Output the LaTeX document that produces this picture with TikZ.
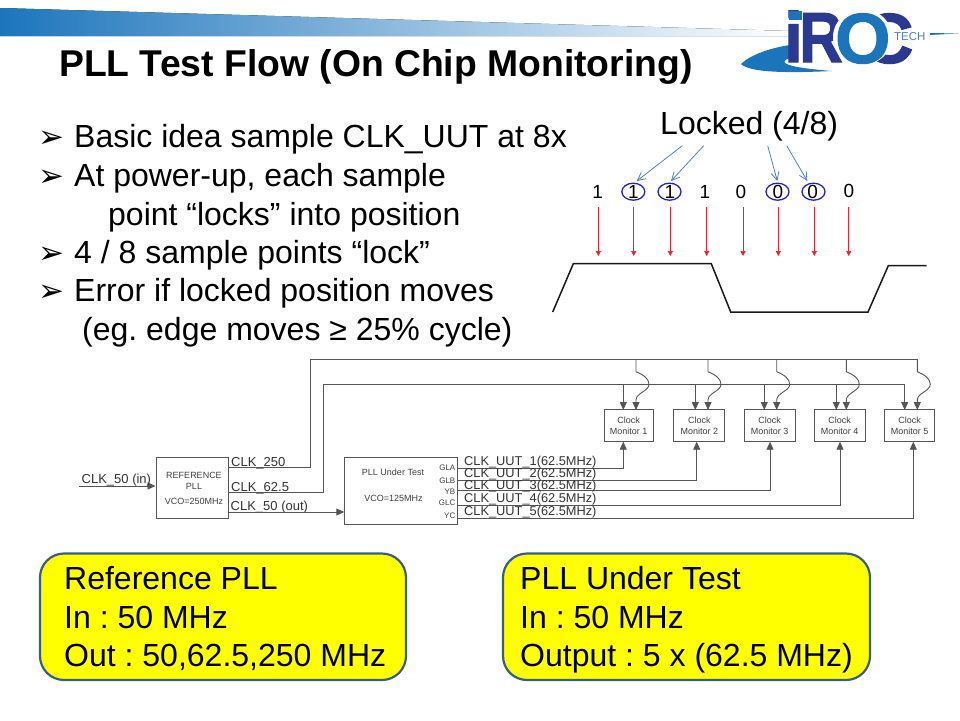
\documentclass[tikz,border=0pt]{standalone}
\usepackage{fontspec}
\setmainfont{Liberation Sans}
\newfontfamily\djv{DejaVu Sans}
\newfontfamily\logofont[FakeBold=1.5]{Liberation Sans Bold}
\usetikzlibrary{arrows.meta,shapes.geometric}
\frenchspacing
\definecolor{bandblue}{HTML}{1C75BC}
\definecolor{logonavy}{HTML}{2B3990}
\definecolor{logoblue}{HTML}{1B75BB}
\definecolor{callout}{HTML}{4F81BD}
\definecolor{ringblue}{HTML}{2222CC}
\definecolor{wire}{HTML}{555555}
\definecolor{boxline}{HTML}{385D8A}
\definecolor{calloutfill}{rgb}{1,1,0}
\definecolor{samplered}{rgb}{1,0.1,0.15}
\tikzset{
  pt/.style={font=\fontsize{#1}{#1}\selectfont,inner sep=0pt,text=black},
  bodytext/.style={pt=32,anchor=base west},
  bulletmark/.style={font=\djv\fontsize{31}{31}\selectfont,inner sep=0pt,anchor=base west},
  bit/.style={pt=19},
  sample/.style={draw=samplered,line width=0.6pt,-{Triangle[length=5pt,width=5pt]}},
  lockline/.style={draw=callout,line width=0.8pt,-{Straight Barb[length=8pt,width=8pt]}},
  ring/.style={draw=ringblue,line width=1.3pt},
  wave/.style={draw=black!90,line width=1.5pt},
  blk/.style={draw=wire,line width=1pt,fill=white,inner sep=0pt,text=black!75,align=center,font=\fontsize{9}{11}\selectfont},
  wireline/.style={draw=wire,line width=0.9pt},
  wirearrow/.style={wireline,-{Triangle[length=8pt,width=7pt]}},
  siglabel/.style={pt=13,anchor=base west,text=black!80},
  uutlabel/.style={pt=12.8,anchor=base west,text=black!80},
  portlabel/.style={pt=8,anchor=east,text=black!75},
  yellowbox/.style={draw=boxline,line width=2.2pt,fill=calloutfill,rounded corners=24pt},
  boxtext/.style={pt=32,anchor=base west},
  logoletter/.style={inner sep=0pt,anchor=base west,font=\logofont\fontsize{71}{71}\selectfont},
}
\begin{document}
\begin{tikzpicture}[x=1pt,y=-1pt]
\useasboundingbox (0,0) rectangle (960,720);
% top band
\fill[left color=bandblue,right color=white,draw=none] (0,8) -- (790,31) -- (790,36) -- (0,36) -- cycle;
% logo
\fill[logoblue] (741,64) .. controls (750,55) and (770,48) .. (790,45) -- (790,58) .. controls (778,62) and (782,67) .. (832,71) .. controls (790,73) and (750,73) .. (741,64) -- cycle;
\node[logoletter,text=logonavy,xscale=0.95] (logoi) at (784,62) {i};
\fill[logoblue] (789,11) rectangle (802,20);
\node[logoletter,text=logonavy,xscale=0.85] (logor) at (799,62) {R};
\node[logoletter,text=logonavy] (logoc) at (862,63) {C};
\fill[white] (862.5,37) ellipse[x radius=29.5,y radius=28];
\node[logoletter,text=logoblue] (logoo) at (835,63) {O};
\node[pt=11.5,anchor=west,text=callout] (tech) at (894,37) {TECH};
\fill[logoblue] (930,33) -- (958,33.5) -- (930,35) -- cycle;
% title
\node[anchor=base west,inner sep=0pt,font=\bfseries\fontsize{37.3}{37.3}\selectfont] (title) at (59,76.5) {PLL Test Flow (On Chip Monitoring)};
% bullets
\node[bulletmark] (b1) at (38,147) {➢};
\node[bodytext] (t1) at (74,147) {Basic idea sample CLK\_UUT at 8x};
\node[bulletmark] (b2) at (38,186) {➢};
\node[bodytext] (t2) at (74,186) {At power-up, each sample};
\node[bodytext] (t3) at (108,225) {point “locks” into position};
\node[bulletmark] (b4) at (38,263) {➢};
\node[bodytext] (t4) at (74,263) {4 / 8 sample points “lock”};
\node[bulletmark] (b5) at (38,301) {➢};
\node[bodytext] (t5) at (74,301) {Error if locked position moves};
\node[bodytext] (t6) at (82,340) {(eg. edge moves ≥ 25\% cycle)};
% timing
\node[pt=32,anchor=base west] (locked) at (660,134) {Locked (4/8)};
\coordinate (la1) at (682.3,145.7); \coordinate (la2) at (703.7,145.7);
\coordinate (la3) at (767.7,145.7); \coordinate (la4) at (786.7,145.7);
\foreach \n/\x/\v in {1/597.7/1,2/633.3/1,3/670/1,4/705/1,5/741/0,6/778/0,7/812.7/0}
  \node[bit] (bit\n) at (\x,191.7) {\v};
\node[bit] (bit8) at (849,190.5) {0};
\foreach \n/\x in {2/633.3,3/669.5,6/777.5,7/813.5}
  \node[ring,ellipse,minimum width=23pt,minimum height=17pt,inner sep=0pt] (ring\n) at (\x,191.7) {};
\draw[lockline] (la1) -- (636.7,181);
\draw[lockline] (la2) -- (671,181);
\draw[lockline] (la3) -- (777.3,181);
\draw[lockline] (la4) -- (807.3,181);
\foreach \x in {598.3,633.7,670.3,706.7,743,778.3,814.3,848.7}
  \draw[sample] (\x,207.3) -- (\x,256);
\draw[wave] (552.7,312) -- (573.3,263.7) -- (711.3,263.7) -- (730.7,312) -- (868,312) -- (888.3,265.7) -- (926.7,265.7);
% block diagram
\node[blk,minimum width=72pt,minimum height=60.5pt] (ref) at (192,487.8) {};
\node[pt=9,text=black!75] at (194,475.5) {REFERENCE};
\node[pt=9,text=black!75] at (194,486.5) {PLL};
\node[pt=9,text=black!75] at (194,501) {VCO=250MHz};
\node[blk,minimum width=113.4pt,minimum height=67pt] (put) at (401,490.8) {};
\node[pt=9,text=black!75] at (393,472.5) {PLL Under Test};
\node[pt=9,text=black!75] at (393.5,498) {VCO=125MHz};
\foreach \l/\y in {GLA/468,GLB/480.5,YB/491.5,GLC/503,YC/516}
  \node[portlabel] at (455.5,\y) {\l};
\foreach \n/\x/\w in {1/628.7/49.3,2/699.3/50.7,3/769.5/51,4/839.7/50.7,5/909.5/50.4}
  \node[blk,minimum width=\w pt,minimum height=31.7pt] (mon\n) at (\x,425.8) {Clock\\Monitor \n};
\coordinate (clkin) at (79.3,486);
\draw[wirearrow] (clkin) -- (ref.west |- clkin);
\node[siglabel] at (81.5,483) {CLK\_50 (in)};
\node[siglabel] at (231,466) {CLK\_250};
\node[siglabel] at (231,491) {CLK\_62.5};
\node[siglabel] at (230.5,510) {CLK\_50 (out)};
\coordinate (a250) at (228,467); \coordinate (a625) at (228,492.7); \coordinate (a50) at (228,512);
\draw[wireline] (a250) -- (310.7,467) -- (310.7,359) -- (917.3,359);
\draw[wireline] (a625) -- (323.7,492.7) -- (323.7,384.3) -- (904.7,384.3);
\draw[wirearrow] (a50) -- (344.3,512);
\foreach \x/\m in {623.3/1,695.3/2,764.3/3,836.3/4,904.7/5}
  \draw[wirearrow] (\x,384.3) -- (\x,410);
\foreach \x in {636,708,776.7,846.3,917.3}
  \draw[wirearrow] (\x,359) -- (\x,371.7) .. controls (\x+8,375) and (\x+13,379) .. (\x+13,384.3) .. controls (\x+13,391) and (\x,393) .. (\x,400) -- (\x,410);
\foreach \y/\x/\m in {468/623.3/1,480/696.7/2,490/770/3,505.3/840/4,518/913.3/5}{
  \coordinate (out\m) at (457.7,\y);
  \draw[wirearrow] (out\m) -- (\x,\y) -- (\x,441.7);
}
\foreach \n/\y in {1/465.5,2/477.5,3/489.5,4/502,5/515.5}
  \node[uutlabel] at (464,\y) {CLK\_UUT\_\n(62.5MHz)};
% yellow boxes
\path[yellowbox] (40,553.5) rectangle (406,680);
\path[yellowbox] (503,553.5) rectangle (870,680);
\node[boxtext] at (64,589) {Reference PLL};
\node[boxtext] at (64,628) {In : 50 MHz};
\node[boxtext] at (64,666) {Out : 50,62.5,250 MHz};
\node[boxtext] at (520,589) {PLL Under Test};
\node[boxtext] at (520,628) {In : 50 MHz};
\node[boxtext] at (520,666) {Output : 5 x (62.5 MHz)};
\end{tikzpicture}
\end{document}
